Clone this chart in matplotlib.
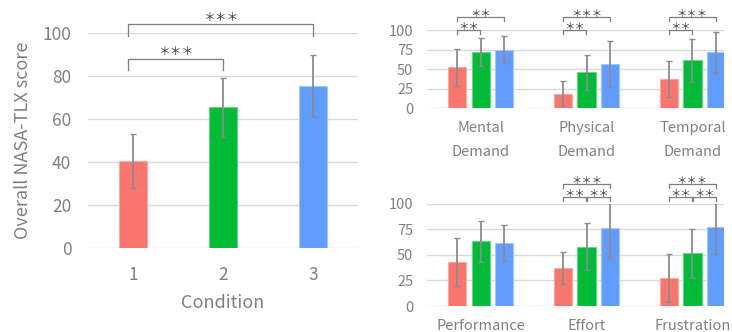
import matplotlib
matplotlib.use('Agg')
import numpy as np
from matplotlib import pyplot as plt

plt.rcParams['font.family'] = ['Noto Sans CJK JP', 'DejaVu Sans']

# overall score per condition
conditions = ['1', '2', '3']
overall_mean = [40.5, 65.4, 75.5]
overall_sd = [12.7, 13.7, 14.5]
overall_sig = [(0, 1, '＊＊＊'), (0, 2, '＊＊＊')]

# subscales
top_labels = ['Mental\nDemand', 'Physical\nDemand', 'Temporal\nDemand']
bottom_labels = ['Performance', 'Effort', 'Frustration']
top_mean = [[52.3, 18.7, 37.4], [71.9, 46.0, 61.3], [74.9, 56.6, 71.9]]
top_sd = [[23.6, 15.7, 23.0], [18.0, 22.7, 27.2], [17.0, 30.0, 26.2]]
bottom_mean = [[42.7, 37.1, 27.4], [63.5, 58.0, 51.5], [61.6, 76.5, 77.5]]
bottom_sd = [[23.3, 15.6, 23.0], [20.0, 22.8, 24.0], [18.0, 29.6, 26.7]]
# (group, cond a, cond b, label)
top_sig = [(0, 0, 1, '＊＊'), (0, 0, 2, '＊＊'), (1, 0, 1, '＊＊'), (1, 0, 2, '＊＊＊'),
           (2, 0, 1, '＊＊'), (2, 0, 2, '＊＊＊')]
bottom_sig = [(1, 0, 1, '＊＊'), (1, 1, 2, '＊＊'), (1, 0, 2, '＊＊＊'),
              (2, 0, 1, '＊＊'), (2, 1, 2, '＊＊'), (2, 0, 2, '＊＊＊')]

colors = ['#F8766D', '#00BA38', '#619CFF']
edges = ['#FBA9A3', '#66D688', '#A3C6FF']
grey = '#808080'
err_kw = dict(ecolor='#8c8c8c', elinewidth=1.3, capsize=2.5, capthick=1.0)


def style_axis(ax, ticks, pad_x, pad_y, size):
    ax.set_ylim(0, 100)
    ax.set_yticks(ticks)
    ax.yaxis.grid(True, color='#d9d9d9', linewidth=1.0)
    ax.set_axisbelow(True)
    for s in ax.spines.values():
        s.set_visible(False)
    ax.tick_params(axis='both', length=0, colors=grey, labelsize=size)
    ax.tick_params(axis='x', pad=pad_x)
    ax.tick_params(axis='y', pad=pad_y)


def bracket(ax, x1, x2, y, leg, label, off, size):
    ax.plot([x1, x1, x2, x2], [y - leg, y, y, y - leg], color='#7f7f7f',
            lw=0.9, clip_on=False)
    ax.text((x1 + x2) / 2, y + off, label, ha='center', va='center',
            fontsize=size, color='#404040', clip_on=False)


fig = plt.figure(figsize=(7.32, 3.32), dpi=100)

# left panel
ax = fig.add_axes([0.1202, 0.253, 0.3689, 0.6476])
xs = np.arange(1, len(conditions) + 1)
ax.bar(xs, overall_mean, width=0.31, color=colors, edgecolor=edges, linewidth=0.8,
       yerr=overall_sd, error_kw=err_kw)
ax.set_xlim(0.5, 3.5)
ax.set_xticks(xs)
ax.set_xticklabels(conditions)
style_axis(ax, np.arange(0, 101, 20), 13, 12, 12.5)
ax.set_xlabel('Condition', color=grey, fontsize=13, labelpad=7)
ax.set_ylabel('Overall NASA-TLX score', color=grey, fontsize=13)
ax.yaxis.set_label_coords(-0.207, 0.5)
for (a, b, lab), y in zip(overall_sig, [88, 104]):
    bracket(ax, xs[a] - 0.05, xs[b], y, 5.4, lab, 3.4, 8.5)

# right panels
step = 0.222
for pos, labels, means, sds, sigs, leg, off in [
        ([0.5833, 0.6738, 0.4057, 0.2358], top_labels, top_mean, top_sd, top_sig, 5.5, 3.6),
        ([0.5833, 0.0783, 0.4057, 0.3081], bottom_labels, bottom_mean, bottom_sd, bottom_sig, 3.9, 2.9)]:
    ax = fig.add_axes(pos)
    groups = np.arange(len(labels))
    for c in range(3):
        ax.bar(groups + (c - 1) * step, means[c], width=0.173, color=colors[c],
               edgecolor=edges[c], linewidth=0.8, yerr=sds[c], error_kw=err_kw)
    ax.set_xlim(-0.508, 2.298)
    ax.set_xticks(groups)
    ax.set_xticklabels(labels, linespacing=1.95)
    style_axis(ax, np.arange(0, 101, 25), 9, 10, 10.5)
    for g, a, b, lab in sigs:
        x1 = g + (a - 1) * step
        x2 = g + (b - 1) * step
        if b - a == 1:
            x1 += 0.006 if a == 1 else 0
            x2 -= 0.006 if b == 1 else 0
        y = (100 if pos[1] > 0.5 else 106.8) if b - a == 1 else (117 if pos[1] > 0.5 else 118.9)
        bracket(ax, x1, x2, y, leg, lab, off, 7.5)

fig.savefig('out.png', dpi=100)
